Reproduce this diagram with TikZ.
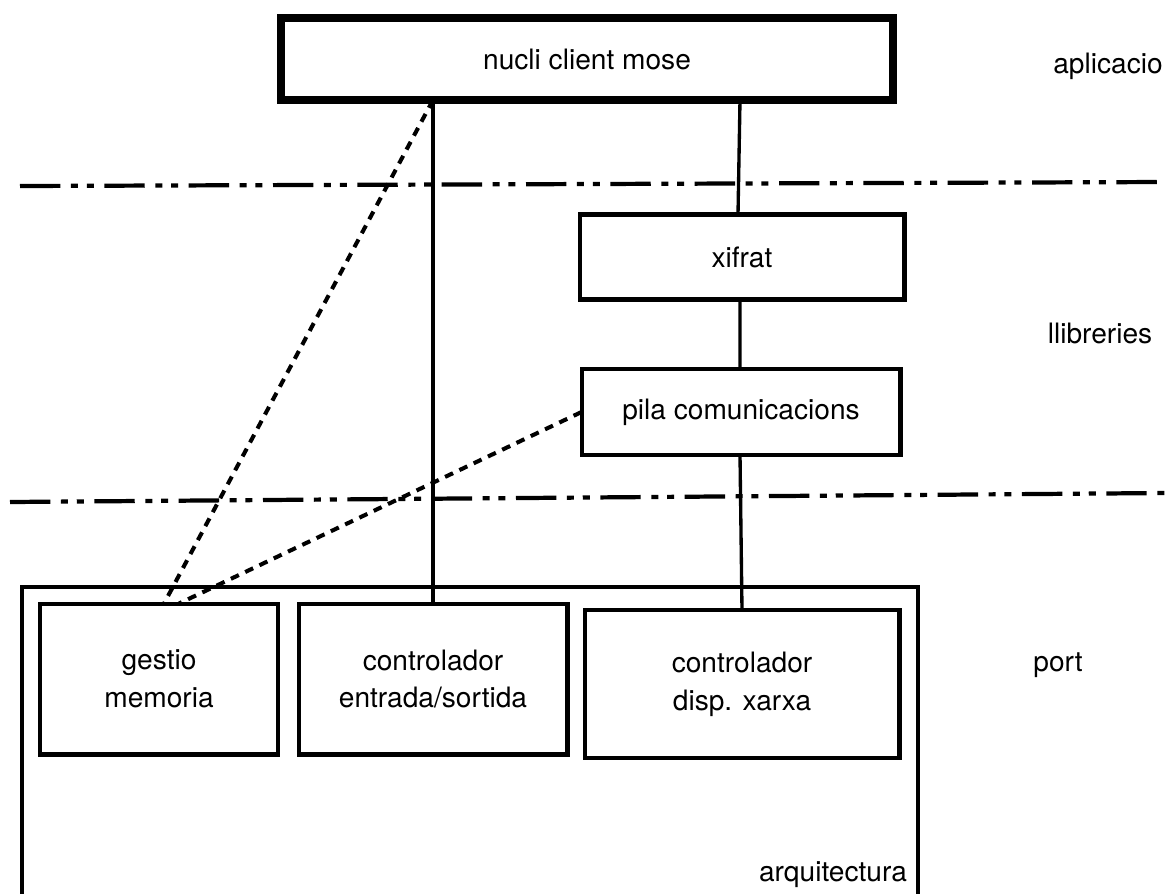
\documentclass[tikz,border=0pt]{standalone}
\usepackage{fontspec}
\setmainfont{TeX Gyre Heros}
\begin{document}
\begin{tikzpicture}[x=0.02cm, y=-0.02cm, line cap=butt, line join=miter, font=\fontsize{16}{21.5}\selectfont]
			\tikzset{box/.style={draw, line width=2.3pt, rectangle, align=center, inner sep=0pt, outer sep=0pt},
				layer line/.style={line width=2.4pt, dash pattern=on 23pt off 6pt on 4pt off 5pt on 4pt off 6pt},
				link/.style={line width=1.9pt},
				weak link/.style={line width=2.3pt, dash pattern=on 5pt off 4pt}}
			\useasboundingbox (0,0) rectangle (1166,893);
			\clip (0,0) rectangle (1166,893);
			\node[box, line width=4.5pt, minimum width=12.26cm, minimum height=1.64cm] (nucli) at (587,59) {nucli client mose};
			\node[box, minimum width=6.5cm, minimum height=1.7cm] (xifrat) at (742,257) {xifrat};
			\node[box, minimum width=6.38cm, minimum height=1.72cm] (pila) at (741,412) {pila comunicacions};
			\node[box, minimum width=17.92cm, minimum height=6.52cm] (arq) at (470,750) {};
			\node[box, minimum width=4.76cm, minimum height=3.02cm] (gestio) at (159,679) {gestio\\memoria};
			\node[box, minimum width=5.38cm, minimum height=3.02cm] (es) at (433,679) {controlador\\entrada/sortida};
			\node[box, minimum width=6.3cm, minimum height=2.96cm] (disp) at (742,684) {controlador\\disp. xarxa};
			\node (arqlabel) at (833,875) {arquitectura};
			\node (aplicacio) at (1108,66) {aplicacio};
			\node (llibreries) at (1100,333) {llibreries};
			\node (port) at (1058,665) {port};
			\draw[layer line] (20,186)--(1166,182);
			\draw[layer line] (10,502)--(1166,493);
			\coordinate (njoin) at (es.north |- nucli.south);
			\draw[link] (njoin)--(es.north);
			\draw[link] ([xshift=-0.04cm]xifrat.north |- nucli.south)--([xshift=-0.08cm]xifrat.north);
			\draw[link] ([xshift=-0.04cm]xifrat.south)--([xshift=-0.02cm]pila.north);
			\draw[link] ([xshift=-0.02cm]pila.south)--(disp.north);
			\draw[weak link] (njoin)--([xshift=0.1cm]gestio.north);
			\draw[weak link] (pila.west)--([xshift=0.4cm]gestio.north);
		\end{tikzpicture}
\end{document}
